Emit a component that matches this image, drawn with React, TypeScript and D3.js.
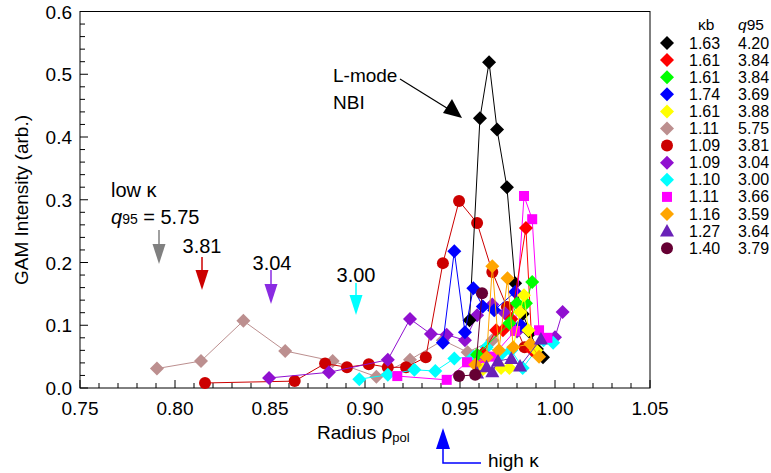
import React from "react";
import * as d3 from "d3";

type Pt = [number, number];

const xTicks = [0.75, 0.8, 0.85, 0.9, 0.95, 1.0, 1.05];
const yTicks = [0, 0.1, 0.2, 0.3, 0.4, 0.5, 0.6];

const kappaB = ["1.63", "1.61", "1.61", "1.74", "1.61", "1.11", "1.09", "1.09", "1.10", "1.11", "1.16", "1.27", "1.40"];
const q95 = ["4.20", "3.84", "3.84", "3.69", "3.88", "5.75", "3.81", "3.04", "3.00", "3.66", "3.59", "3.64", "3.79"];
const colors = ["#000000", "#ff0000", "#00ff00", "#0000ff", "#ffff00", "#bc8f8f", "#cc0000", "#9010d0", "#00ffff", "#ff00ff", "#ffa500", "#6a22b8", "#660033"];
const shapes = ["diamond", "diamond", "diamond", "diamond", "diamond", "diamond", "circle", "diamond", "diamond", "square", "diamond", "triangle", "circle"];

const sBlack: Pt[] = [[0.955, 0.108], [0.9605, 0.43], [0.9653, 0.519], [0.9695, 0.412], [0.9747, 0.32], [0.979, 0.167], [0.983, 0.118], [0.987, 0.088], [0.9905, 0.062], [0.9937, 0.049]];
const sRed: Pt[] = [[0.962, 0.055], [0.969, 0.092], [0.9726, 0.092], [0.977, 0.11], [0.9847, 0.255], [0.988, 0.06]];
const sGreen: Pt[] = [[0.959, 0.053], [0.976, 0.103], [0.98, 0.135], [0.9847, 0.135], [0.988, 0.169]];
const sBlue: Pt[] = [[0.941, 0.072], [0.947, 0.218], [0.9526, 0.089], [0.957, 0.159], [0.962, 0.13], [0.968, 0.124], [0.979, 0.153], [0.982, 0.1]];
const sYellow: Pt[] = [[0.962, 0.03], [0.9716, 0.032], [0.976, 0.032], [0.9816, 0.121], [0.9837, 0.148], [0.986, 0.092], [0.99, 0.06]];
const sBrown: Pt[] = [[0.7905, 0.031], [0.8137, 0.043], [0.836, 0.107], [0.858, 0.059], [0.883, 0.043], [0.906, 0.018], [0.9237, 0.045], [0.941, 0.076], [0.954, 0.057], [0.967, 0.076]];
const sRedCircle: Pt[] = [[0.8158, 0.008], [0.863, 0.011], [0.879, 0.039], [0.8905, 0.033], [0.902, 0.038], [0.912, 0.033], [0.9216, 0.033], [0.932, 0.049], [0.941, 0.199], [0.9495, 0.298], [0.959, 0.263], [0.967, 0.185], [0.9747, 0.129], [0.984, 0.065]];
const sViolet: Pt[] = [[0.8495, 0.016], [0.881, 0.025], [0.912, 0.045], [0.9237, 0.11], [0.9347, 0.086], [0.943, 0.085], [0.9526, 0.076], [0.959, 0.116], [0.967, 0.133], [0.9737, 0.119], [0.98, 0.09], [1.0, 0.081], [1.004, 0.121]];
const sCyan: Pt[] = [[0.897, 0.014], [0.912, 0.021], [0.926, 0.029], [0.937, 0.027], [0.947, 0.047], [0.957, 0.05], [0.964, 0.065], [0.972, 0.055], [0.977, 0.06], [0.983, 0.032], [0.994, 0.076], [0.999, 0.072]];
const sMagenta: Pt[] = [[0.917, 0.019], [0.943, 0.013], [0.9537, 0.041], [0.9605, 0.047], [0.967, 0.05], [0.979, 0.091], [0.9837, 0.306], [0.988, 0.269], [0.9916, 0.092], [0.996, 0.08]];
const sOrange: Pt[] = [[0.958, 0.037], [0.964, 0.049], [0.967, 0.194], [0.9705, 0.06], [0.975, 0.175], [0.978, 0.065], [0.987, 0.07], [0.9916, 0.05]];
const sTriangle: Pt[] = [[0.959, 0.024], [0.964, 0.034], [0.967, 0.026], [0.97, 0.043], [0.977, 0.047], [0.9816, 0.035], [0.9926, 0.078]];
const sMaroon: Pt[] = [[0.9495, 0.019], [0.958, 0.021], [0.9616, 0.151]];

const seriesData: Pt[][] = [sBlack, sRed, sGreen, sBlue, sYellow, sBrown, sRedCircle, sViolet, sCyan, sMagenta, sOrange, sTriangle, sMaroon];
const drawOrder = [5, 6, 7, 8, 0, 3, 9, 1, 2, 4, 10, 11, 12];

const FONT = "'Liberation Sans', Arial, sans-serif";

function Marker({ shape, x, y, color }: { shape: string; x: number; y: number; color: string }) {
  if (shape === "circle") return <circle cx={x} cy={y} r={6} fill={color} />;
  if (shape === "square") return <rect x={x - 5} y={y - 5} width={10} height={10} fill={color} />;
  if (shape === "triangle")
    return <path d={`M${x},${y - 7}L${x + 7},${y + 5.5}L${x - 7},${y + 5.5}Z`} fill={color} />;
  return <path d={`M${x},${y - 7}L${x + 7},${y}L${x},${y + 7}L${x - 7},${y}Z`} fill={color} />;
}

function DownArrow({ x, y0, y1, color }: { x: number; y0: number; y1: number; color: string }) {
  const head = 20;
  return (
    <g>
      <line x1={x} y1={y0} x2={x} y2={y1 - head + 2} stroke={color} strokeWidth={1.5} />
      <path d={`M${x - 6.5},${y1 - head}L${x + 6.5},${y1 - head}L${x},${y1}Z`} fill={color} />
    </g>
  );
}

export default function App() {
  const left = 80, right = 650, top = 11.5, bottom = 388;
  const x = d3.scaleLinear().domain([0.75, 1.05]).range([left, right]);
  const y = d3.scaleLinear().domain([0, 0.6]).range([bottom, top]);
  const line = d3.line<Pt>().x((d) => x(d[0])).y((d) => y(d[1]));

  const xMinor = d3.range(0, 31).map((i) => 0.75 + i * 0.01);
  const yMinor = d3.range(0, 31).map((i) => i * 0.02);

  return (
    <svg width={771} height={473} style={{ position: "absolute", left: 0, top: 0, background: "#fff" }} fontFamily={FONT}>
      <rect width={771} height={473} fill="#fff" />
      <rect x={left} y={top} width={right - left} height={bottom - top} fill="none" stroke="#000" strokeWidth={1} />
      {xMinor.map((v, i) => (
        <line key={"xm" + i} x1={x(v)} x2={x(v)} y1={bottom} y2={bottom - (i % 5 === 0 ? 8 : 5)} stroke="#000" strokeWidth={1} />
      ))}
      {yMinor.map((v, i) => (
        <line key={"ym" + i} x1={left} x2={left + (i % 5 === 0 ? 8 : 5)} y1={y(v)} y2={y(v)} stroke="#000" strokeWidth={1} />
      ))}
      {xTicks.map((v) => (
        <text key={"xt" + v} x={x(v)} y={415} fontSize={19} textAnchor="middle">{v.toFixed(2)}</text>
      ))}
      {yTicks.map((v) => (
        <text key={"yt" + v} x={72} y={y(v) + 7} fontSize={19} textAnchor="end">{v.toFixed(1)}</text>
      ))}
      <text x={317} y={439} fontSize={19}>Radius ρ<tspan fontSize={13} dy={3}>pol</tspan></text>
      <text transform="translate(28,200) rotate(-90)" fontSize={19} textAnchor="middle">GAM Intensity (arb.)</text>

      {drawOrder.map((si) => (
        <g key={"s" + si}>
          <path d={line(seriesData[si]) || ""} fill="none" stroke={colors[si]} strokeWidth={1} />
          {seriesData[si].map((p, j) => (
            <Marker key={j} shape={shapes[si]} x={x(p[0])} y={y(p[1])} color={colors[si]} />
          ))}
        </g>
      ))}

      <text x={333} y={82} fontSize={19}>L-mode</text>
      <text x={333} y={109} fontSize={19}>NBI</text>
      <line x1={400} y1={79} x2={450} y2={110} stroke="#000" strokeWidth={1.2} />
      <path d="M462,118 L443,113 L452,99 Z" fill="#000" />

      <text x={111} y={197} fontSize={20}>low κ</text>
      <text x={111} y={224} fontSize={20}><tspan fontStyle="italic">q</tspan><tspan fontSize={14}>95</tspan> = 5.75</text>
      <DownArrow x={159} y0={230} y1={264} color="#808080" />
      <text x={202} y={253} fontSize={20} textAnchor="middle">3.81</text>
      <DownArrow x={202} y0={257} y1={290} color="#cc0000" />
      <text x={272} y={270} fontSize={20} textAnchor="middle">3.04</text>
      <DownArrow x={271} y0={270} y1={304} color="#8a2be2" />
      <text x={356} y={282} fontSize={20} textAnchor="middle">3.00</text>
      <DownArrow x={356} y0={283} y1={315} color="#00ffff" />

      <path d="M443,428 L450,449 L436,449 Z" fill="#0000ff" />
      <polyline points="443,447 443,463 481,463" fill="none" stroke="#0000ff" strokeWidth={1.5} />
      <text x={488} y={467} fontSize={19}>high κ</text>

      <text x={698} y={30} fontSize={15.5}>κb</text>
      <text x={738} y={30} fontSize={15.5}><tspan fontStyle="italic">q</tspan>95</text>
      {kappaB.map((k, i) => {
        const cy = 43 + i * 17.1;
        return (
          <g key={"lg" + i}>
            <Marker shape={shapes[i]} x={667} y={cy} color={colors[i]} />
            <text x={689} y={cy + 5.5} fontSize={16}>{k}</text>
            <text x={738} y={cy + 5.5} fontSize={16}>{q95[i]}</text>
          </g>
        );
      })}
    </svg>
  );
}
